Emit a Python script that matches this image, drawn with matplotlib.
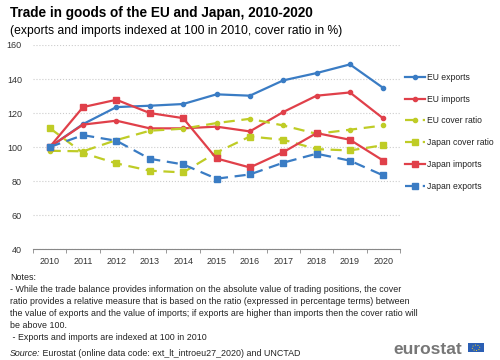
import matplotlib.pyplot as plt
import matplotlib.patches as mpatches
import numpy as np

plt.rcParams['font.family'] = ['Liberation Sans', 'DejaVu Sans']

years = [2010, 2011, 2012, 2013, 2014, 2015, 2016, 2017, 2018, 2019, 2020]
eu_exports = [100, 113.5, 123.5, 124.3, 125.3, 131, 130.2, 139.2, 143.5, 148.6, 134.7]
eu_imports = [100, 113.2, 115.5, 111, 111, 112, 109.2, 120.6, 130.2, 132.1, 116.8]
eu_cover = [97.8, 97.5, 104.1, 109.6, 110.8, 114.1, 116.6, 112.7, 107.8, 110.2, 112.7]
japan_cover = [111.2, 96.5, 90.4, 86.1, 85.1, 96.8, 106.2, 104.3, 98.8, 98, 101.1]
japan_imports = [100, 123.5, 127.8, 120, 117, 93.3, 88, 97, 108.2, 104.3, 92]
japan_exports = [100, 107, 103.7, 93.1, 89.8, 81.4, 83.9, 90.8, 96.1, 92, 83.3]

blue = '#3a7cc4'
red = '#e0404a'
green = '#bfcc26'

fig = plt.figure(figsize=(5, 3.6), dpi=100)
ax = fig.add_axes([0.066, 0.308, 0.734, 0.567])

x = np.arange(len(years))
ax.plot(x, eu_exports, color=blue, lw=1.6, marker='o', ms=3, label='EU exports')
ax.plot(x, eu_imports, color=red, lw=1.6, marker='o', ms=3, label='EU imports')
ax.plot(x, eu_cover, color=green, lw=1.6, ls=(0, (5, 3)), marker='o', ms=3, label='EU cover ratio')
ax.plot(x, japan_cover, color=green, lw=1.6, ls=(0, (5, 3)), marker='s', ms=4, label='Japan cover ratio')
ax.plot(x, japan_imports, color=red, lw=1.6, marker='s', ms=4, label='Japan imports')
ax.plot(x, japan_exports, color=blue, lw=1.6, ls=(0, (5, 3)), marker='s', ms=4, label='Japan exports')

ax.set_xlim(-0.5, len(years) - 0.5)
ax.set_ylim(40, 160)
ax.set_yticks(range(40, 161, 20))
ax.set_xticks(x)
ax.set_xticklabels(years)
ax.set_xticks(np.arange(-0.5, len(years), 1), minor=True)
ax.tick_params(axis='x', which='major', length=0, labelsize=6.5, colors='#333333', pad=6)
ax.tick_params(axis='x', which='minor', length=3, color='#888888')
ax.tick_params(axis='y', length=0, labelsize=6.5, colors='#333333', pad=8)
ax.grid(axis='y', color='#cccccc', ls=':', lw=0.8)
ax.set_axisbelow(True)
for s in ['top', 'right', 'left']:
    ax.spines[s].set_visible(False)
ax.spines['bottom'].set_color('#888888')

ax.legend(loc='upper left', bbox_to_anchor=(1.0, 0.89), frameon=False, fontsize=6.2,
          handlelength=2.3, handletextpad=0.2, labelspacing=1.5, borderaxespad=0.2,
          labelcolor='#222222')

fig.text(0.02, 0.965, 'Trade in goods of the EU and Japan, 2010-2020', fontsize=9.8,
         fontweight='bold', va='center')
fig.text(0.02, 0.913, '(exports and imports indexed at 100 in 2010, cover ratio in %)',
         fontsize=8.7, va='center')

notes = ('Notes:\n'
         '- While the trade balance provides information on the absolute value of trading positions, the cover\n'
         'ratio provides a relative measure that is based on the ratio (expressed in percentage terms) between\n'
         'the value of exports and the value of imports; if exports are higher than imports then the cover ratio will\n'
         'be above 100.\n'
         ' - Exports and imports are indexed at 100 in 2010')
fig.text(0.02, 0.242, notes, fontsize=6.4, va='top', linespacing=1.42, color='#222222')
fig.text(0.02, 0.01, 'Source:', fontsize=6.4, style='italic', color='#222222')
fig.text(0.079, 0.01, ' Eurostat (online data code: ext_lt_introeu27_2020) and UNCTAD',
         fontsize=6.4, color='#222222')

# eurostat logo
fig.text(0.786, 0.018, 'eurostat', fontsize=12.5, fontweight='bold', color='#777777')
fig.patches.append(mpatches.Rectangle((0.936, 0.022), 0.032, 0.024, transform=fig.transFigure,
                                      facecolor='#2b5fb4', edgecolor='none'))
fig.patches.append(mpatches.Circle((0.952, 0.034), 0.0075, transform=fig.transFigure,
                                   facecolor='none', edgecolor='#f5d020', lw=0.7, ls=':'))

fig.savefig('out.png', dpi=100)
